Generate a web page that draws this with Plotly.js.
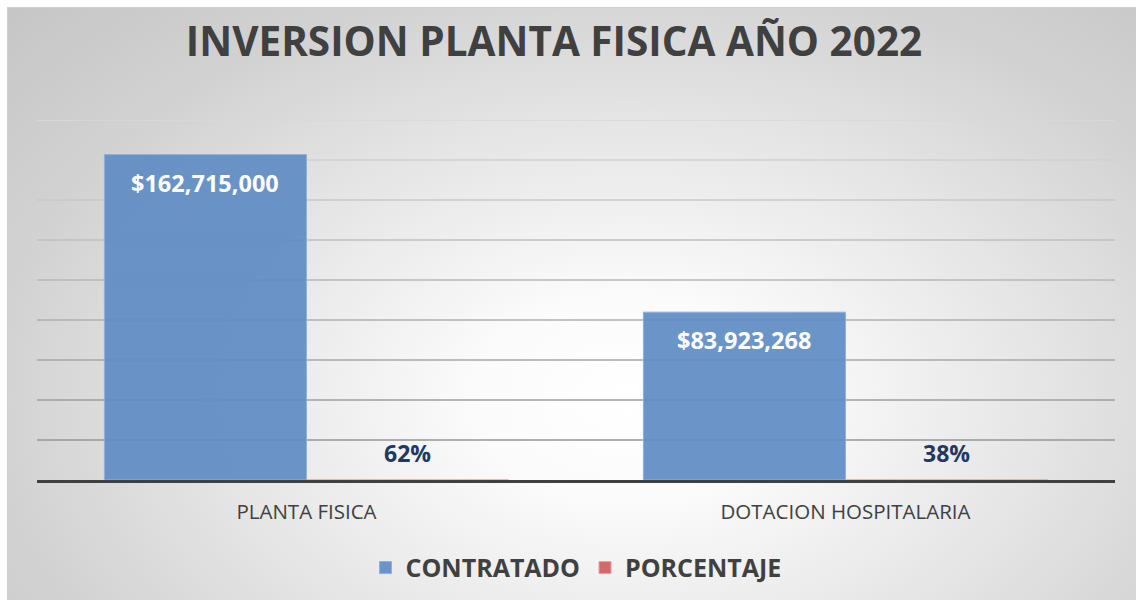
<!DOCTYPE html>
<html>
<head>
<meta charset="utf-8">
<script src="https://cdn.plot.ly/plotly-3.0.1.min.js"></script>
<style>
  html, body { margin: 0; padding: 0; background: #ffffff; }
  #wrap { position: relative; width: 1136px; height: 606px; overflow: hidden; }
  #bg { position: absolute; left: 7px; top: 7px; width: 1128px; height: 592px;
        border-top: 1px solid #cfcfcf; border-left: 1px solid #cfcfcf;
        background: radial-gradient(ellipse 75% 95% at 55% 66%, #ffffff 0%, #fbfbfb 18%, #e6e6e6 48%, #d2d2d2 75%, #c6c6c6 100%); }
  #chart { position: absolute; left: 0; top: 0; width: 1136px; height: 606px; }
</style>
</head>
<body>
<div id="wrap">
  <div id="bg"></div>
  <div id="chart"></div>
</div>
<script>
const categories = ["PLANTA FISICA", "DOTACION HOSPITALARIA"];
const contratado = [162715000, 83923268];
const porcentaje = [0.62, 0.38];
const contratadoLabels = ["$162,715,000", "$83,923,268"];
const porcentajeLabels = ["62%", "38%"];
const gridValues = [20000000, 40000000, 60000000, 80000000, 100000000, 120000000, 140000000, 160000000, 180000000];

const traces = [
  {
    type: "bar", name: "CONTRATADO", x: categories, y: contratado,
    marker: { color: "rgba(96,141,196,0.93)", line: { color: "#8fb1da", width: 1 } },
    hoverinfo: "skip"
  },
  {
    type: "bar", name: "PORCENTAJE", x: categories, y: porcentaje,
    marker: { color: "#d26a6a", line: { color: "#e8a0a0", width: 1 } },
    hoverinfo: "skip"
  }
];

const annotations = [];
categories.forEach((c, i) => {
  annotations.push({
    x: i - 0.1875, y: contratado[i], xref: "x", yref: "y",
    text: contratadoLabels[i], showarrow: false, yanchor: "middle", yshift: -28,
    font: { family: "Open Sans, sans-serif", size: 23.5, color: "#ffffff", weight: "bold" }
  });
  annotations.push({
    x: i + 0.1875, y: porcentaje[i], xref: "x", yref: "y",
    text: porcentajeLabels[i], showarrow: false, yanchor: "middle", yshift: 27,
    font: { family: "Open Sans, sans-serif", size: 23, color: "#1f3864", weight: "bold" }
  });
});

// gridlines: darker near the axis, fainter toward the top (as in the reference)
const shapes = gridValues.map((v, i) => {
  const t = i / (gridValues.length - 1);
  const g = Math.round(150 + t * 66);
  return {
    type: "line", xref: "paper", yref: "y", x0: 0, x1: 1, y0: v, y1: v,
    layer: "below", line: { color: `rgb(${g},${g},${g})`, width: 1.3 }
  };
});

const layout = {
  width: 1136, height: 606,
  paper_bgcolor: "rgba(0,0,0,0)", plot_bgcolor: "rgba(0,0,0,0)",
  margin: { l: 37, r: 21, t: 120, b: 126 },
  title: {
    text: "INVERSION PLANTA FISICA AÑO 2022",
    x: 0.4877, xanchor: "center", y: 0.931, yanchor: "middle", yref: "container",
    font: { family: "Open Sans, sans-serif", size: 40.5, color: "#404040", weight: "bold" }
  },
  barmode: "group", bargap: 0.25, bargroupgap: 0,
  xaxis: {
    type: "category", showline: true, linecolor: "#404040", linewidth: 3,
    ticks: "", showgrid: false, zeroline: false, ticklabelstandoff: 11,
    tickfont: { family: "Open Sans, sans-serif", size: 20.5, color: "#404040" }
  },
  yaxis: {
    range: [0, 180000000], showgrid: false, zeroline: false, showticklabels: false,
    ticks: "", showline: false
  },
  showlegend: true,
  legend: {
    orientation: "h", x: 0.5, xanchor: "center", y: -0.244, yanchor: "middle",
    bgcolor: "rgba(0,0,0,0)", itemwidth: 30, traceorder: "normal",
    font: { family: "Open Sans, sans-serif", size: 25, color: "#404040", weight: "bold" }
  },
  annotations: annotations,
  shapes: shapes
};

Plotly.newPlot("chart", traces, layout, { displayModeBar: false, staticPlot: true });
</script>
</body>
</html>
